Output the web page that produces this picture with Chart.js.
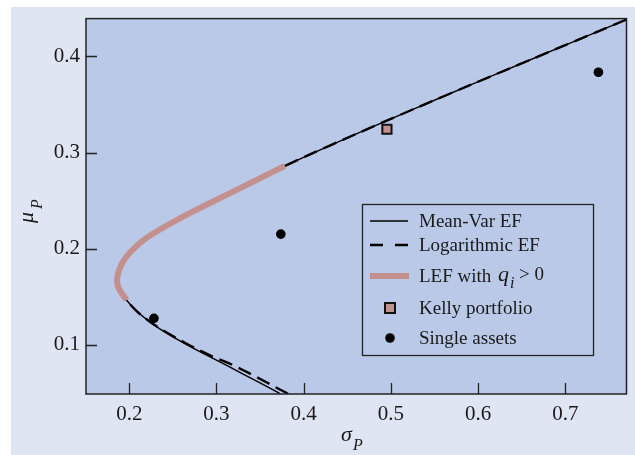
<!DOCTYPE html>
<html>
<head>
<meta charset="utf-8">
<script src="https://cdn.jsdelivr.net/npm/chart.js@4.4.1/dist/chart.umd.min.js"></script>
<style>
  html, body { margin: 0; padding: 0; background: #ffffff; }
  #wrap { position: absolute; left: 0; top: 0; width: 635px; height: 455px; }
</style>
</head>
<body>
<div id="wrap"><canvas id="grafico" width="635" height="455"></canvas></div>
<script>
// datos (sigma_P, mu_P)
const meanVarSigma = [0.3725, 0.3688, 0.330, 0.300, 0.2695, 0.240, 0.2237, 0.210, 0.197, 0.1874, 0.1863, 0.1913, 0.2008, 0.216, 0.2352, 0.2733, 0.3116, 0.3497, 0.3784, 0.43, 0.50, 0.56, 0.62, 0.70, 0.77];
const meanVarMu    = [0.0495, 0.0514, 0.0700, 0.0842, 0.0985, 0.1138, 0.1240, 0.1340, 0.1465, 0.160, 0.1704, 0.1842, 0.1961, 0.2088, 0.2201, 0.2389, 0.2561, 0.2732, 0.2862, 0.3074, 0.3351, 0.3584, 0.3814, 0.4118, 0.4383];

const logSigma = [0.382, 0.3795, 0.3707, 0.346, 0.320, 0.295, 0.2695, 0.240, 0.2237, 0.210, 0.197, 0.1874, 0.1863, 0.1913, 0.2008, 0.216, 0.2352, 0.2733, 0.3116, 0.3497, 0.3784, 0.43, 0.50, 0.56, 0.62, 0.70, 0.77];
const logMu    = [0.049, 0.0505, 0.0547, 0.0666, 0.0786, 0.0882, 0.0995, 0.1145, 0.1242, 0.1340, 0.1465, 0.160, 0.1704, 0.1842, 0.1961, 0.2088, 0.2201, 0.2389, 0.2561, 0.2732, 0.2862, 0.3074, 0.3351, 0.3584, 0.3814, 0.4118, 0.4383];

const lefSigma = [0.197, 0.1874, 0.1863, 0.1913, 0.2008, 0.216, 0.2352, 0.2733, 0.3116, 0.3497, 0.3784];
const lefMu    = [0.1465, 0.160, 0.1704, 0.1842, 0.1961, 0.2088, 0.2201, 0.2389, 0.2561, 0.2732, 0.2862];

const kellySigma = [0.4955];
const kellyMu    = [0.3243];

const assetSigma = [0.2283, 0.3738, 0.738];
const assetMu    = [0.1277, 0.2153, 0.3836];

const xTicks = [0.2, 0.3, 0.4, 0.5, 0.6, 0.7];
const yTicks = [0.1, 0.2, 0.3, 0.4];

const legendLabels = ['Mean-Var EF', 'Logarithmic EF', 'LEF with', 'Kelly portfolio', 'Single assets'];

const pares = (xs, ys) => xs.map((v, i) => ({ x: v, y: ys[i] }));

const ROSA = '#c4908e';
const FUENTE = '"Liberation Serif", "DejaVu Serif", serif';

// fondo del panel y del area del grafico
const fondo = {
    id: 'fondo',
    beforeDraw(chart) {
        const ctx = chart.ctx;
        const a = chart.chartArea;
        ctx.save();
        ctx.fillStyle = '#ffffff';
        ctx.fillRect(0, 0, chart.width, chart.height);
        ctx.fillStyle = '#dfe5f3';
        ctx.fillRect(11, 7, chart.width - 11, chart.height - 7);
        ctx.fillStyle = '#b9c9e7';
        ctx.fillRect(a.left, a.top, a.right - a.left, a.bottom - a.top);
        ctx.restore();
    }
};

// marco, ticks hacia adentro, titulos y leyenda
const extras = {
    id: 'extras',
    afterDraw(chart) {
        const ctx = chart.ctx;
        const a = chart.chartArea;
        const sx = chart.scales.x;
        const sy = chart.scales.y;
        ctx.save();
        ctx.strokeStyle = '#222222';
        ctx.lineWidth = 1.5;
        ctx.strokeRect(a.left, a.top, a.right - a.left, a.bottom - a.top);
        ctx.lineWidth = 1.3;
        ctx.beginPath();
        xTicks.forEach(v => {
            const px = Math.round(sx.getPixelForValue(v)) + 0.5;
            ctx.moveTo(px, a.bottom);
            ctx.lineTo(px, a.bottom - 11);
        });
        yTicks.forEach(v => {
            const py = Math.round(sy.getPixelForValue(v)) + 0.5;
            ctx.moveTo(a.left, py);
            ctx.lineTo(a.left + 11, py);
        });
        ctx.stroke();

        // titulos de ejes
        ctx.fillStyle = '#1a1a1a';
        ctx.textBaseline = 'alphabetic';
        ctx.textAlign = 'left';
        ctx.font = 'italic 22px ' + FUENTE;
        ctx.fillText('\u03C3', 341, 441);
        ctx.font = 'italic 16px ' + FUENTE;
        ctx.fillText('P', 353, 450);

        ctx.save();
        ctx.translate(33, 223);
        ctx.rotate(-Math.PI / 2);
        ctx.font = 'italic 22px ' + FUENTE;
        ctx.fillText('\u03BC', 0, 0);
        ctx.font = 'italic 16px ' + FUENTE;
        ctx.fillText('P', 14, 9);
        ctx.restore();

        // leyenda
        const lx = 362, ly = 204, lw = 231, lh = 151;
        ctx.lineWidth = 1.3;
        ctx.strokeStyle = '#222222';
        ctx.strokeRect(lx + 0.5, ly + 0.5, lw, lh);
        const filas = [221, 245, 276, 308, 338];
        ctx.strokeStyle = '#000000';
        ctx.lineWidth = 1.4;
        ctx.beginPath();
        ctx.moveTo(370, filas[0]);
        ctx.lineTo(408, filas[0]);
        ctx.stroke();
        ctx.lineWidth = 2.6;
        ctx.setLineDash([13, 12]);
        ctx.beginPath();
        ctx.moveTo(370, filas[1]);
        ctx.lineTo(409, filas[1]);
        ctx.stroke();
        ctx.setLineDash([]);
        ctx.strokeStyle = ROSA;
        ctx.lineWidth = 6;
        ctx.beginPath();
        ctx.moveTo(370, filas[2]);
        ctx.lineTo(409, filas[2]);
        ctx.stroke();
        ctx.fillStyle = ROSA;
        ctx.fillRect(385, filas[3] - 5, 10, 10);
        ctx.strokeStyle = '#111111';
        ctx.lineWidth = 2;
        ctx.strokeRect(385, filas[3] - 5, 10, 10);
        ctx.fillStyle = '#000000';
        ctx.beginPath();
        ctx.arc(390, filas[4], 4.8, 0, Math.PI * 2);
        ctx.fill();

        ctx.fillStyle = '#1a1a1a';
        ctx.font = '19px ' + FUENTE;
        legendLabels.forEach((t, i) => {
            ctx.fillText(t, 419, filas[i] + 6);
        });
        ctx.font = 'italic 22px ' + FUENTE;
        ctx.fillText('q', 498, filas[2] + 5);
        ctx.font = 'italic 16px ' + FUENTE;
        ctx.fillText('i', 510, filas[2] + 12);
        ctx.font = '19px ' + FUENTE;
        ctx.fillText('> 0', 519, filas[2] + 4);
        ctx.restore();
    }
};

const data = {
    datasets: [
        {
            label: 'Single assets',
            data: pares(assetSigma, assetMu),
            pointStyle: 'circle',
            pointRadius: 4.8,
            backgroundColor: '#000000',
            borderColor: '#000000',
            borderWidth: 0,
            showLine: false,
            order: 0
        },
        {
            label: 'Kelly portfolio',
            data: pares(kellySigma, kellyMu),
            pointStyle: 'rect',
            pointRadius: 6.5,
            backgroundColor: ROSA,
            borderColor: '#111111',
            borderWidth: 2,
            showLine: false,
            order: 1
        },
        {
            label: 'LEF',
            data: pares(lefSigma, lefMu),
            showLine: true,
            borderColor: ROSA,
            borderWidth: 6,
            borderCapStyle: 'butt',
            tension: 0.35,
            pointRadius: 0,
            order: 2
        },
        {
            label: 'Logarithmic EF',
            data: pares(logSigma, logMu),
            showLine: true,
            borderColor: '#000000',
            borderWidth: 2.4,
            borderDash: [14, 7],
            tension: 0.35,
            pointRadius: 0,
            order: 3
        },
        {
            label: 'Mean-Var EF',
            data: pares(meanVarSigma, meanVarMu),
            showLine: true,
            borderColor: '#000000',
            borderWidth: 1.4,
            tension: 0.35,
            pointRadius: 0,
            order: 4
        }
    ]
};

const config = {
    type: 'scatter',
    data: data,
    options: {
        responsive: false,
        animation: false,
        devicePixelRatio: 1,
        layout: { padding: { left: 0, top: 15, right: 8, bottom: 0 } },
        plugins: {
            legend: { display: false },
            tooltip: { enabled: false }
        },
        scales: {
            x: {
                type: 'linear',
                min: 0.1504,
                max: 0.7702,
                afterBuildTicks: s => { s.ticks = xTicks.map(v => ({ value: v })); },
                afterFit: s => { s.height = 61; },
                grid: { display: false, drawTicks: false },
                border: { display: false },
                ticks: {
                    padding: 8,
                    color: '#1a1a1a',
                    font: { family: FUENTE, size: 21 },
                    callback: v => v.toFixed(1)
                }
            },
            y: {
                type: 'linear',
                min: 0.049,
                max: 0.4394,
                afterBuildTicks: s => { s.ticks = yTicks.map(v => ({ value: v })); },
                afterFit: s => { s.width = 86; },
                grid: { display: false, drawTicks: false },
                border: { display: false },
                ticks: {
                    padding: 6,
                    color: '#1a1a1a',
                    font: { family: FUENTE, size: 21 },
                    callback: v => v.toFixed(1)
                }
            }
        }
    },
    plugins: [fondo, extras]
};

new Chart(document.querySelector('#grafico'), config);
</script>
</body>
</html>
